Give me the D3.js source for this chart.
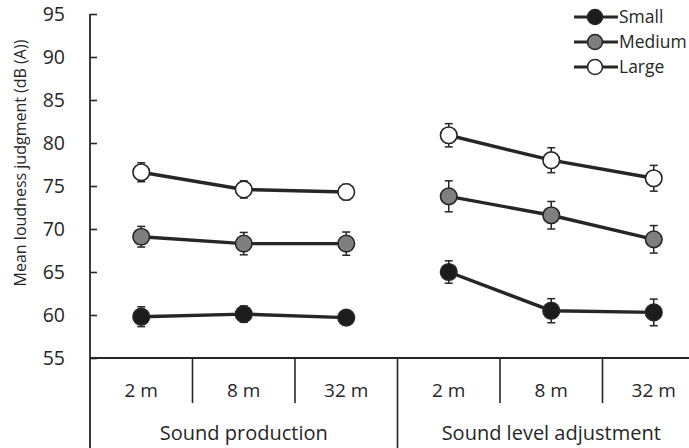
<!DOCTYPE html>
<html>
<head>
<meta charset="utf-8">
<script src="https://cdn.jsdelivr.net/npm/d3@7"></script>
<style>
  body { margin: 0; background: #fff; }
  svg { display: block; font-family: "Open Sans", sans-serif; }
</style>
</head>
<body>
<div id="chart"></div>
<script>
var groups = ["Sound production", "Sound level adjustment"]
var distances = ["2 m", "8 m", "32 m"]
var seriesNames = ["Small", "Medium", "Large"]
var seriesFill = ["#1c1c1c", "#7f7f7f", "#ffffff"]

// means, production then adjustment
var smallMean = [59.8, 60.1, 59.7, 65.0, 60.5, 60.3]
var mediumMean = [69.1, 68.3, 68.3, 73.8, 71.6, 68.8]
var largeMean = [76.6, 74.6, 74.3, 80.9, 78.0, 75.9]
// error bar half-widths
var smallErr = [1.15, 0.95, 0.6, 1.3, 1.4, 1.55]
var mediumErr = [1.2, 1.3, 1.35, 1.8, 1.6, 1.6]
var largeErr = [1.1, 1.0, 0.9, 1.35, 1.45, 1.5]

var yTicks = [55, 60, 65, 70, 75, 80, 85, 90, 95]

function drawChart() {
    var width = 689
    var height = 448
    var left = 90, right = 705, top = 14, bottom = 358

    var cats = []
    groups.forEach((g, gi) => distances.forEach(d => cats.push(gi + "|" + d)))

    var x = d3.scaleBand().domain(cats).range([left, right])
    var y = d3.scaleLinear().domain([55, 95]).range([bottom, top])

    var svg = d3.select("#chart")
        .append("svg")
        .attr("width", width)
        .attr("height", height)

    var ink = "#262626"

    // y axis
    svg.append("g")
        .attr("transform", `translate(${left},0)`)
        .call(d3.axisRight(y).tickValues(yTicks).tickSize(7).tickFormat(d3.format("d")))
        .call(g => g.select(".domain").remove())
        .call(g => g.selectAll("line").attr("stroke", ink).attr("stroke-width", 1.6))
        .call(g => g.selectAll("text").attr("x", -25).attr("text-anchor", "end")
            .attr("fill", ink).attr("font-size", 19.5).attr("font-family", "Open Sans"))

    svg.append("line")
        .attr("x1", left).attr("x2", left)
        .attr("y1", top).attr("y2", height)
        .attr("stroke", ink).attr("stroke-width", 1.8)

    // x baseline
    svg.append("line")
        .attr("x1", left).attr("x2", right)
        .attr("y1", bottom).attr("y2", bottom)
        .attr("stroke", ink).attr("stroke-width", 1.8)

    // dividers between categories
    cats.slice(1).forEach((c, i) => {
        var isGroup = (i + 1) % distances.length == 0
        svg.append("line")
            .attr("x1", x(c)).attr("x2", x(c))
            .attr("y1", bottom).attr("y2", isGroup ? height : 403)
            .attr("stroke", ink).attr("stroke-width", 1.6)
    })

    svg.append("g")
        .selectAll("text")
        .data(cats)
        .join("text")
        .attr("x", d => x(d) + x.bandwidth() / 2)
        .attr("y", 397)
        .attr("text-anchor", "middle")
        .attr("font-size", 19)
        .attr("fill", ink)
        .text(d => d.split("|")[1])

    svg.append("g")
        .selectAll("text")
        .data(groups)
        .join("text")
        .attr("x", (d, i) => x(i + "|" + distances[1]) + x.bandwidth() / 2)
        .attr("y", 440)
        .attr("text-anchor", "middle")
        .attr("font-size", 20)
        .attr("fill", ink)
        .text(d => d)

    // y title
    svg.append("text")
        .attr("transform", `translate(26,163) rotate(-90)`)
        .attr("text-anchor", "middle")
        .attr("font-size", 16)
        .attr("fill", ink)
        .text("Mean loudness judgment (dB (A))")

    var series = [
        { name: "Small", mean: smallMean, err: smallErr, fill: seriesFill[0] },
        { name: "Medium", mean: mediumMean, err: mediumErr, fill: seriesFill[1] },
        { name: "Large", mean: largeMean, err: largeErr, fill: seriesFill[2] }
    ]

    var cx = c => x(c) + x.bandwidth() / 2
    var line = d3.line().x(d => cx(d.c)).y(d => y(d.v))

    series.forEach(s => {
        var pts = cats.map((c, i) => ({ c: c, v: s.mean[i], e: s.err[i] }))
        var g = svg.append("g")

        groups.forEach((gr, gi) => {
            g.append("path")
                .datum(pts.filter(p => p.c.startsWith(gi + "|")))
                .attr("d", line)
                .attr("fill", "none")
                .attr("stroke", ink)
                .attr("stroke-width", 3.4)
        })

        var eb = g.selectAll("g.eb").data(pts).join("g").attr("class", "eb")
        eb.append("line")
            .attr("x1", d => cx(d.c)).attr("x2", d => cx(d.c))
            .attr("y1", d => y(d.v + d.e)).attr("y2", d => y(d.v - d.e))
            .attr("stroke", ink).attr("stroke-width", 1.5)
        eb.append("line")
            .attr("x1", d => cx(d.c) - 4).attr("x2", d => cx(d.c) + 4)
            .attr("y1", d => y(d.v + d.e)).attr("y2", d => y(d.v + d.e))
            .attr("stroke", ink).attr("stroke-width", 1.5)
        eb.append("line")
            .attr("x1", d => cx(d.c) - 4).attr("x2", d => cx(d.c) + 4)
            .attr("y1", d => y(d.v - d.e)).attr("y2", d => y(d.v - d.e))
            .attr("stroke", ink).attr("stroke-width", 1.5)

        g.selectAll("circle")
            .data(pts)
            .join("circle")
            .attr("cx", d => cx(d.c))
            .attr("cy", d => y(d.v))
            .attr("r", 8.3)
            .attr("fill", s.fill)
            .attr("stroke", ink)
            .attr("stroke-width", 1.6)
    })

    // legend
    var legend = svg.append("g")
        .selectAll("g")
        .data(series)
        .join("g")
        .attr("transform", (d, i) => `translate(574,${17 + i * 25})`)

    legend.append("line")
        .attr("x1", 0).attr("x2", 44)
        .attr("stroke", ink).attr("stroke-width", 3)
    legend.append("circle")
        .attr("cx", 21).attr("r", 7.5)
        .attr("fill", d => d.fill)
        .attr("stroke", ink).attr("stroke-width", 1.6)
    legend.append("text")
        .attr("x", 45).attr("dy", "0.35em")
        .attr("font-size", 17.5)
        .attr("fill", ink)
        .text(d => d.name)
}
drawChart()
</script>
</body>
</html>
